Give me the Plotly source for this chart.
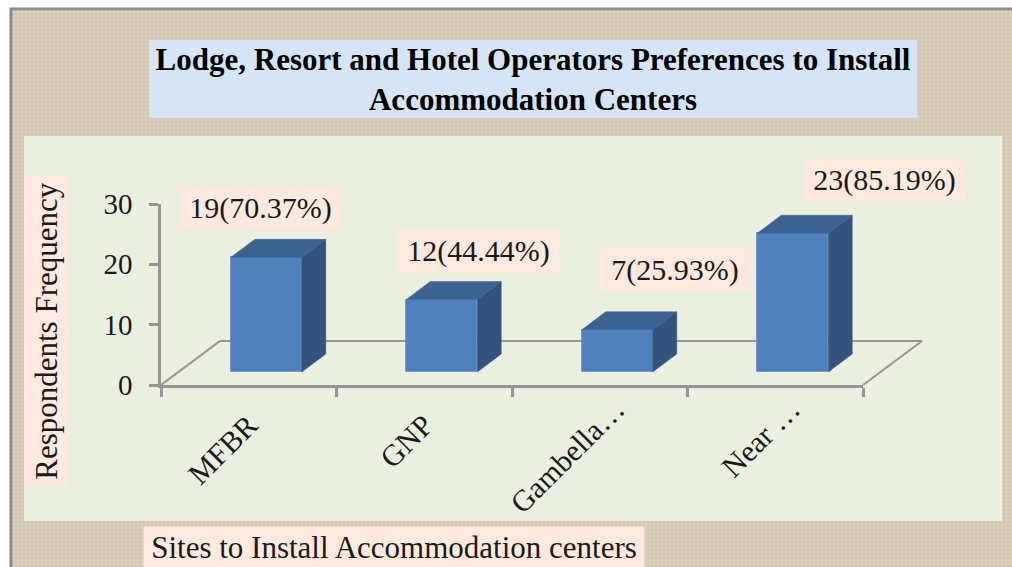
import plotly.graph_objects as go

# ---- data ----
categories = ["MFBR\u00a0\u00a0\u00a0", "GNP\u00a0\u00a0\u00a0", "Gambella…", "Near …"]
values = [19, 12, 7, 23]
value_labels = ["19(70.37%)", "12(44.44%)", "7(25.93%)", "23(85.19%)"]
y_ticks = [0, 10, 20, 30]
title_text = "Lodge, Resort and Hotel Operators Preferences to Install<br>Accommodation Centers"
x_title = "Sites to Install Accommodation centers"
y_title = "Respondents Frequency"

# ---- layout geometry (pixels) ----
W, H = 1012, 567
AX_L, AX_R, AX_T, AX_B = 161, 863, 204, 385
FLOOR_R = 930
PX_X = (AX_R - AX_L) / 4
PX_Y = (AX_B - AX_T) / 30
FONT = "Liberation Serif"
GREY = "#959694"
BOX = "#fde9dd"
INK = "#1a1a1a"

def dx(px):
    return px / PX_X
def dy(px):
    return px / PX_Y
def fx(px):
    return px / W
def fy(px):
    return 1 - px / H

FLOOR_DX, FLOOR_DY = dx(59), dy(44)
BAR_W = dx(71)
DEPTH_X, DEPTH_Y = dx(24), dy(18)
BASE_X, BASE_Y = dx(17.5), dy(13)
LABEL_X = dx(16)
centers = [i + 0.5 for i in range(len(categories))]

fig = go.Figure()

# floor outline (back), on its own wider hidden axes so it can run past the x axis
fig.add_trace(go.Scatter(
    x=[0, FLOOR_DX, 4 + FLOOR_DX, 4], y=[0, FLOOR_DY, FLOOR_DY, 0],
    mode="lines", line=dict(color=GREY, width=2), cliponaxis=False,
    hoverinfo="skip", showlegend=False))

# bar fronts
fig.add_trace(go.Bar(
    x=[c + BASE_X for c in centers], y=values, base=[BASE_Y] * 4, width=BAR_W,
    marker=dict(color="#4f81bd", line=dict(color="#6f9bd0", width=1)),
    cliponaxis=False, showlegend=False, xaxis="x2", yaxis="y2"))

# 3-D side and top faces, derived from the values
for c, v in zip(centers, values):
    xl = c + BASE_X - BAR_W / 2
    xr = c + BASE_X + BAR_W / 2
    top = BASE_Y + v
    fig.add_trace(go.Scatter(
        x=[xr, xr + DEPTH_X, xr + DEPTH_X, xr, xr],
        y=[BASE_Y, BASE_Y + DEPTH_Y, top + DEPTH_Y, top, BASE_Y],
        mode="lines", fill="toself", fillcolor="#31537c", line=dict(color="#31537c", width=0.5),
        cliponaxis=False, hoverinfo="skip", showlegend=False, xaxis="x2", yaxis="y2"))
    fig.add_trace(go.Scatter(
        x=[xl, xr, xr + DEPTH_X, xl + DEPTH_X, xl],
        y=[top, top, top + DEPTH_Y, top + DEPTH_Y, top],
        mode="lines", fill="toself", fillcolor="#3b6290", line=dict(color="#3b6290", width=0.5),
        cliponaxis=False, hoverinfo="skip", showlegend=False, xaxis="x2", yaxis="y2"))

# burlap weave drawn as thin lines over the tan ground
weave_v = "".join(f"M{fx(x):.5f},{fy(9):.5f} L{fx(x):.5f},{fy(H):.5f} " for x in range(14, W, 4))
weave_h = "".join(f"M{fx(12):.5f},{fy(y):.5f} L{fx(W):.5f},{fy(y):.5f} " for y in range(12, H, 4))

shapes = [
    dict(type="rect", xref="paper", yref="paper", x0=fx(11), x1=fx(W + 10), y0=fy(9), y1=fy(H + 10),
         fillcolor="#d3c7b0", line=dict(color="#8a8a8a", width=3), layer="below"),
    dict(type="path", xref="paper", yref="paper", path=weave_v + weave_h,
         line=dict(color="#e7dfcf", width=1), opacity=0.55, layer="below"),
    dict(type="rect", xref="paper", yref="paper", x0=fx(24), x1=fx(1002), y0=fy(136), y1=fy(521),
         fillcolor="#ebefdf", line=dict(width=0), layer="below"),
    dict(type="rect", xref="paper", yref="paper", x0=fx(149), x1=fx(917), y0=fy(40), y1=fy(118),
         fillcolor="#d5e5f7", line=dict(width=0), layer="below"),
]

# data labels anchored on the bars (pixel shifts from each bar's top)
label_shift = [(12, 62), (54, 62), (75, 73), (109, 66)]
annotations = []
for c, v, t, (sx, sy) in zip(centers, values, value_labels, label_shift):
    annotations.append(dict(
        x=c, y=v, xref="x2", yref="y2", text=t, showarrow=False, xshift=sx, yshift=sy,
        xanchor="center", yanchor="middle",
        font=dict(family=FONT, size=30, color=INK), bgcolor=BOX,
        width=(150 if v == 7 else 161), height=42, borderpad=0))
annotations.append(dict(
    x=fx(394), y=fy(547), xref="paper", yref="paper", text=x_title, showarrow=False,
    xanchor="center", yanchor="middle",
    font=dict(family=FONT, size=31, color=INK), bgcolor=BOX, width=500, height=40, borderpad=0))
annotations.append(dict(
    x=fx(45.5), y=fy(331), xref="paper", yref="paper", text=y_title, showarrow=False, textangle=-90,
    xanchor="center", yanchor="middle",
    font=dict(family=FONT, size=31, color=INK), bgcolor=BOX, width=309, height=43, borderpad=0))

fig.update_layout(
    width=W, height=H, autosize=False, margin=dict(l=0, r=0, t=0, b=0),
    paper_bgcolor="white", plot_bgcolor="rgba(0,0,0,0)", bargap=0, showlegend=False,
    shapes=shapes, annotations=annotations,
    title=dict(text="<b>" + title_text + "</b>", x=fx(533), y=fy(70), xanchor="center", yanchor="middle",
               font=dict(family=FONT, size=31, color="black")),
    xaxis=dict(domain=[fx(AX_L), fx(FLOOR_R)], range=[0, (FLOOR_R - AX_L) / PX_X], anchor="y",
               visible=False, automargin=False),
    yaxis=dict(domain=[fy(AX_B), fy(AX_T)], range=[0, 30], anchor="x", visible=False, automargin=False),
    xaxis2=dict(domain=[fx(AX_L), fx(AX_R)], range=[0, 4], anchor="y2", automargin=False,
                tickmode="array", tickvals=[c + LABEL_X for c in centers], ticktext=categories, tickangle=-45,
                ticks="", showgrid=False, zeroline=False, showline=True, linecolor=GREY, linewidth=2.5,
                tickfont=dict(family=FONT, size=30, color=INK), ticklabelstandoff=-8,
                minor=dict(tickmode="array", tickvals=[0, 1, 2, 3, 4], ticks="outside", ticklen=9,
                           tickwidth=2.5, tickcolor=GREY, showgrid=False)),
    yaxis2=dict(domain=[fy(AX_B), fy(AX_T)], range=[0, 30], anchor="x2", automargin=False,
                tickmode="array", tickvals=y_ticks, ticks="outside", ticklen=9, tickwidth=2.5,
                tickcolor=GREY, showgrid=False, zeroline=False, showline=True, linecolor=GREY, linewidth=2.5,
                tickfont=dict(family=FONT, size=29, color=INK), ticklabelstandoff=11),
)

fig.write_html("out.html", config=dict(displayModeBar=False), post_script="document.body.style.margin='0';")
